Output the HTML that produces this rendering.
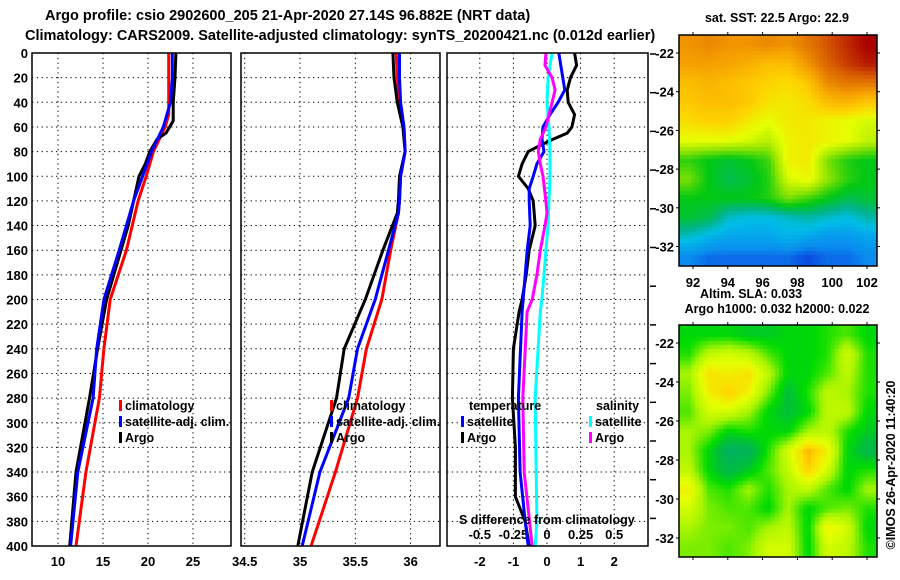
<!DOCTYPE html>
<html><head><meta charset="utf-8"><style>
body{margin:0;background:#fff;}
#wrap{position:relative;width:900px;height:580px;overflow:hidden;font-family:"Liberation Sans",sans-serif;}
svg text{font-family:"Liberation Sans",sans-serif;font-weight:bold;}
canvas{position:absolute;}
</style></head><body>
<div id="wrap">
<svg id="svg" width="900" height="580" style="position:absolute;left:0;top:0"></svg>
<canvas id="sst" width="198" height="231" style="left:679px;top:35px"></canvas>
<canvas id="sla" width="198" height="232" style="left:679px;top:325px"></canvas>
<svg id="svg2" width="900" height="580" style="position:absolute;left:0;top:0"></svg>
</div>
<script>
// ---- data ----
const depthTicks=[0,20,40,60,80,100,120,140,160,180,200,220,240,260,280,300,320,340,360,380,400];
const tTicks=[10,15,20,25];
const sTicks=[34.5,35,35.5,36];
const dTicks=[-2,-1,0,1,2];
const sdTicks=[-0.5,-0.25,0,0.25,0.5];
const sdTickLabels=["-0.5","-0.25","0","0.25","0.5"];

const tClimDepth=[0,20,50,60,80,100,120,160,200,240,280,340,400];
const tClim=[22.3,22.3,22.3,21.9,20.6,19.8,18.9,17.6,15.8,15.1,14.6,13.1,12.0];
const tSatDepth=[0,20,40,60,80,100,120,160,200,240,280,340,400];
const tSat=[22.7,22.7,22.5,21.7,20.4,19.4,18.4,16.8,15.1,14.3,13.9,12.2,11.4];
const tArgoDepth=[0,20,40,55,60,65,70,80,90,100,120,140,160,200,240,280,340,400];
const tArgo=[23.1,23.0,22.8,22.8,22.4,22.0,21.0,20.2,19.7,19.0,18.4,17.8,17.0,15.4,14.4,13.5,12.0,11.3];

const sDepth=[0,20,40,60,80,100,120,130,160,200,240,280,340,400];
const sClim=[35.87,35.88,35.9,35.94,35.95,35.91,35.9,35.89,35.82,35.74,35.6,35.52,35.32,35.1];
const sSat=[35.9,35.9,35.91,35.94,35.95,35.91,35.9,35.89,35.8,35.68,35.52,35.44,35.18,35.02];
const sArgo=[35.84,35.85,35.88,35.93,35.95,35.9,35.89,35.88,35.75,35.59,35.4,35.33,35.11,34.98];

const dTArgoDepth=[0,10,20,30,40,50,60,65,70,75,80,90,100,110,120,140,160,180,200,210,240,280,320,360,380,400];
const dTArgo=[0.82,0.88,0.7,0.6,0.63,0.82,0.74,0.6,0.18,-0.2,-0.56,-0.74,-0.85,-0.56,-0.41,-0.35,-0.53,-0.62,-0.74,-0.83,-1.0,-1.03,-0.94,-0.94,-0.65,-0.53];
const dTSatDepth=[0,20,30,40,50,60,70,80,90,100,110,120,140,160,180,200,210,280,340,380,400];
const dTSat=[0.35,0.47,0.53,0.33,0.09,-0.12,-0.15,-0.09,-0.3,-0.41,-0.53,-0.53,-0.5,-0.59,-0.65,-0.71,-0.74,-0.85,-0.8,-0.65,-0.56];
const dSArgoDepth=[0,10,20,30,40,50,60,70,80,90,100,120,130,140,160,180,200,210,280,340,400];
const dSArgo=[-0.008,-0.015,0.038,0.06,0.038,0.015,-0.008,-0.05,-0.065,-0.05,-0.03,-0.008,0,-0.015,-0.05,-0.075,-0.11,-0.148,-0.18,-0.17,-0.11];
const dSSatDepth=[0,20,40,60,80,100,120,140,160,180,200,210,280,340,380,400];
const dSSat=[0.038,0.008,0,0.015,0.022,0.022,0.015,0.008,-0.008,-0.022,-0.038,-0.05,-0.088,-0.08,-0.075,-0.088];

// map data (coarse fields)
const sstField=[
[0.8,0.82,0.8,0.8,0.82,0.8,0.85,0.9,0.95,1],
[0.78,0.78,0.77,0.75,0.72,0.72,0.8,0.88,0.93,0.97],
[0.72,0.74,0.72,0.7,0.68,0.66,0.7,0.82,0.85,0.85],
[0.7,0.72,0.72,0.7,0.65,0.64,0.66,0.72,0.74,0.7],
[0.66,0.68,0.68,0.64,0.6,0.64,0.64,0.62,0.6,0.58],
[0.6,0.6,0.6,0.58,0.55,0.62,0.64,0.62,0.6,0.56],
[0.45,0.42,0.4,0.42,0.46,0.62,0.64,0.5,0.44,0.42],
[0.5,0.42,0.38,0.4,0.44,0.58,0.62,0.52,0.45,0.42],
[0.42,0.42,0.42,0.42,0.44,0.5,0.46,0.42,0.38,0.4],
[0.4,0.38,0.3,0.28,0.28,0.3,0.32,0.3,0.28,0.32],
[0.3,0.26,0.24,0.24,0.24,0.26,0.24,0.22,0.22,0.24],
[0.2,0.18,0.18,0.18,0.18,0.18,0.16,0.18,0.18,0.2]];
const slaField=[
[0.3,0.3,0.3,0.25,0.25,0.3,0.3,0.35,0.4,0.3],
[0.35,0.55,0.6,0.55,0.4,0.3,0.3,0.35,0.6,0.35],
[0.5,0.75,0.7,0.75,0.55,0.3,0.3,0.4,0.55,0.35],
[0.45,0.7,0.8,0.7,0.45,0.2,0.35,0.55,0.5,0.35],
[0.4,0.6,0.6,0.5,0.3,0.2,0.3,0.55,0.55,0.3],
[0.5,0.45,0.3,0.35,0.3,0.3,0.5,0.55,0.35,0.25],
[0.5,0.3,0.08,0.1,0.35,0.6,0.85,0.7,0.3,0.15],
[0.55,0.3,0.15,0.25,0.4,0.55,0.8,0.6,0.3,0.35],
[0.7,0.4,0.35,0.5,0.35,0.5,0.55,0.4,0.3,0.5],
[0.6,0.45,0.4,0.4,0.3,0.5,0.3,0.4,0.45,0.35],
[0.5,0.45,0.45,0.4,0.5,0.55,0.3,0.7,0.6,0.3],
[0.45,0.45,0.4,0.45,0.6,0.6,0.3,0.6,0.55,0.35]];

// ---- axes ----
const Y0=53,Y1=546;
const yD=d=>Y0+d*(Y1-Y0)/400;
const xT=v=>58+(v-10)*9;
const xS=v=>300+(v-35)*110.6;
const xDT=v=>547+v*33.6;
const xDS=v=>547+v*4*33.6;
const panels=[[32,231],[241,440],[447,648]];

const NS='http://www.w3.org/2000/svg';
const svg=document.getElementById('svg');
function el(tag,attrs,parent,txt){const e=document.createElementNS(NS,tag);for(const k in attrs)e.setAttribute(k,attrs[k]);if(txt!==undefined)e.textContent=txt;(parent||svg).appendChild(e);return e;}

// titles
let t1=el('text',{x:45,y:20,'font-size':14.5});t1.textContent='Argo profile: csio 2902600_205 21-Apr-2020 27.14S 96.882E (NRT data)';


let t2=el('text',{x:25,y:40,'font-size':14.5});t2.textContent='Climatology: CARS2009. Satellite-adjusted climatology: synTS_20200421.nc (0.012d earlier)';



// grids
const grid=el('g',{stroke:'#000','stroke-width':1,'stroke-dasharray':'1.3,3.5'});


panels.forEach(p=>{depthTicks.forEach(d=>{if(d>0&&d<400)el('line',{x1:p[0],x2:p[1],y1:yD(d),y2:yD(d)},grid);});});
tTicks.forEach(v=>el('line',{x1:xT(v),x2:xT(v),y1:Y0,y2:Y1},grid));
sTicks.forEach(v=>el('line',{x1:xS(v),x2:xS(v),y1:Y0,y2:Y1},grid));
dTicks.forEach(v=>el('line',{x1:xDT(v),x2:xDT(v),y1:Y0,y2:Y1},grid));

// depth labels
depthTicks.forEach(d=>{const t=el('text',{x:28,y:yD(d)+5,'font-size':13,'text-anchor':'end'});t.textContent=d;

});
function xlab(arr,fx,labels){arr.forEach((v,i)=>{const t=el('text',{x:fx(v),y:566,'font-size':13,'text-anchor':'middle'});t.textContent=labels?labels[i]:String(v);

});}
xlab(tTicks,xT);xlab(sTicks,xS);xlab(dTicks,xDT);
sdTicks.forEach((v,i)=>{const t=el('text',{x:xDS(v),y:539,'font-size':13,'text-anchor':'middle'});t.textContent=sdTickLabels[i];

});
// right side ticks
for(let i=0;i<13;i++){const yy=54+i*38.7;if(yy>548)break;el('line',{x1:650,x2:656,y1:yy,y2:yy,stroke:'#000','stroke-width':1.5});}

function line(ds,vs,fx,color,name){const pts=ds.map((d,i)=>fx(vs[i]).toFixed(1)+','+yD(d).toFixed(1)).join(' ');
const p=el('polyline',{points:pts,fill:'none',stroke:color,'stroke-width':3,'stroke-linejoin':'miter'});

}
line(tClimDepth,tClim,xT,'#ff0000','temp-climatology-line');
line(tArgoDepth,tArgo,xT,'#000','temp-argo-line');
line(tSatDepth,tSat,xT,'#0000ff','temp-satellite-line');
line(sDepth,sClim,xS,'#ff0000','sal-climatology-line');
line(sDepth,sArgo,xS,'#000','sal-argo-line');
line(sDepth,sSat,xS,'#0000ff','sal-satellite-line');
line(dTArgoDepth,dTArgo,xDT,'#000','tdiff-argo-line');
line(dTSatDepth,dTSat,xDT,'#0000ff','tdiff-satellite-line');
line(dSSatDepth,dSSat,xDS,'#00ffff','sdiff-satellite-line');
line(dSArgoDepth,dSArgo,xDS,'#ff00ff','sdiff-argo-line');

// panel frames
panels.forEach(p=>{const r=el('rect',{x:p[0],y:Y0,width:p[1]-p[0],height:Y1-Y0,fill:'none',stroke:'#000','stroke-width':1.5});

});

// legends
function leg(x,y,color,txt,name){el('rect',{x:x,y:y-10,width:3,height:11,fill:color});const t=el('text',{x:x+6,y:y,'font-size':12.5});t.textContent=txt;

}
leg(119,410,'#ff0000','climatology','legend-climatology');
leg(119,426,'#0000ff','satellite-adj. clim.','legend-satellite-adj');
leg(119,442,'#000','Argo','legend-argo');
leg(330,410,'#ff0000','climatology','legend2-climatology');
leg(330,426,'#0000ff','satellite-adj. clim.','legend2-satellite-adj');
leg(330,442,'#000','Argo','legend2-argo');
let lt=el('text',{x:469,y:410,'font-size':12.5});lt.textContent='temperature';
let ls=el('text',{x:596,y:410,'font-size':12.5});ls.textContent='salinity';
leg(461,426,'#0000ff','satellite','legend3-t-satellite');
leg(461,442,'#000','Argo','legend3-t-argo');
leg(589,426,'#00ffff','satellite','legend3-s-satellite');
leg(589,442,'#ff00ff','Argo','legend3-s-argo');
let sdt=el('text',{x:459,y:524,'font-size':12.5});sdt.textContent='S difference from climatology';



// maps
function cmapSST(v){const st=[[0.15,[10,60,220]],[0.2,[10,140,240]],[0.28,[0,190,230]],[0.34,[0,180,140]],[0.42,[0,200,20]],[0.52,[150,230,0]],[0.6,[230,255,0]],[0.68,[255,210,0]],[0.78,[245,160,0]],[0.88,[220,100,0]],[1,[170,0,0]]];return interp(st,v);}
function cmapSLA(v){const st=[[0,[0,170,120]],[0.2,[0,190,60]],[0.32,[0,220,0]],[0.5,[170,245,0]],[0.65,[230,255,0]],[0.78,[255,215,0]],[0.9,[245,160,0]]];return interp(st,v);}
function interp(st,v){if(v<=st[0][0])return st[0][1];for(let i=1;i<st.length;i++){if(v<=st[i][0]){const a=st[i-1],b=st[i],f=(v-a[0])/(b[0]-a[0]);return a[1].map((c,k)=>Math.round(c+(b[1][k]-c)*f));}}return st[st.length-1][1];}
function drawMap(id,field,cmap,px){const c=document.getElementById(id),ctx=c.getContext('2d');const R=field.length,C=field[0].length;
for(let y=0;y<c.height;y+=px)for(let x=0;x<c.width;x+=px){const fy=Math.min(R-1.001,Math.max(0,(y+px/2)/c.height*R-0.5)),fx=Math.min(C-1.001,Math.max(0,(x+px/2)/c.width*C-0.5));
const i=Math.floor(fy),j=Math.floor(fx),a=fy-i,b=fx-j;const v=field[i][j]*(1-a)*(1-b)+field[i][j+1]*(1-a)*b+field[i+1][j]*a*(1-b)+field[i+1][j+1]*a*b;
const col=cmap(v);ctx.fillStyle='rgb('+col.join(',')+')';ctx.fillRect(x,y,px,px);}}
drawMap('sst',sstField,cmapSST,4);
drawMap('sla',slaField,cmapSLA,4);

const s2=document.getElementById('svg2');
function el2(tag,attrs){return el(tag,attrs,s2);}
[[35,266],[325,557]].forEach((m,mi)=>{
  const r=el2('rect',{x:679,y:m[0],width:198,height:m[1]-m[0],fill:'none',stroke:'#000','stroke-width':1.5});
  
  
  const lats=[-22,-24,-26,-28,-30,-32];
  lats.forEach((la,i)=>{const yy=mi?343+i*39:53+i*38.7;el2('line',{x1:676,x2:679,y1:yy,y2:yy,stroke:'#000'});el2('line',{x1:877,x2:880,y1:yy,y2:yy,stroke:'#000'});
    const t=el2('text',{x:674,y:yy+5,'font-size':13,'text-anchor':'end'});t.textContent=la;
    
    });
  [92,94,96,98,100,102].forEach(lo=>{const xx=693+(lo-92)*17.4;el2('line',{x1:xx,x2:xx,y1:m[0]-3,y2:m[0],stroke:'#000'});el2('line',{x1:xx,x2:xx,y1:m[1],y2:m[1]+3,stroke:'#000'});
    if(!mi){const t=el2('text',{x:xx,y:287,'font-size':13,'text-anchor':'middle'});t.textContent=lo;
    
    }});
});
let mt1=el2('text',{x:777,y:22,'font-size':12.5,'text-anchor':'middle'});mt1.textContent='sat. SST: 22.5 Argo: 22.9';


let mt2=el2('text',{x:700,y:298,'font-size':12.5});mt2.textContent='Altim. SLA: 0.033';


let mt3=el2('text',{x:777,y:313,'font-size':12.5,'text-anchor':'middle'});mt3.textContent='Argo h1000: 0.032 h2000: 0.022';


let cp=el2('text',{x:0,y:0,'font-size':12.5,'text-anchor':'middle',transform:'translate(895,465) rotate(-90)'});cp.textContent='©IMOS 26-Apr-2020 11:40:20';


</script>
</body></html>
